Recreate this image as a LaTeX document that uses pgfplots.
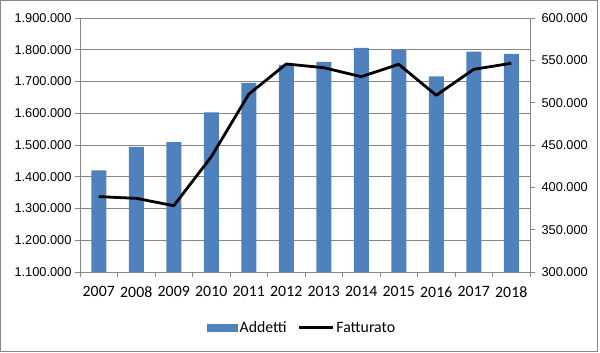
\documentclass[border=0pt]{standalone}
\usepackage{pgfplots}
\pgfplotsset{compat=1.18}
\usepackage{fontspec}
\setmainfont{Carlito}
\newfontfamily\arialf{Liberation Sans}
\definecolor{barblue}{HTML}{4F81BD}
\definecolor{gridgray}{HTML}{878787}
\begin{document}
\begin{tikzpicture}
\useasboundingbox (0,0) rectangle (600bp,353bp);
\draw[gridgray, line width=1.2bp] (0.8bp,1.5bp) rectangle (597.6bp,352.4bp);
\begin{axis}[
  at={(80bp,81bp)}, anchor=south west, scale only axis,
  width=450bp, height=254bp,
  xmin=-0.5, xmax=11.5, ymin=1100000, ymax=1900000,
  axis x line*=bottom, axis y line*=left,
  axis line style={draw=gridgray, line width=0.8bp, -},
  ytick={1100000,1200000,1300000,1400000,1500000,1600000,1700000,1800000,1900000},
  ymajorgrids, major grid style={gridgray, line width=0.8bp},
  xtick={0,...,11},
  xticklabels={2007,2008,2009,2010,2011,2012,2013,2014,2015,2016,2017,2018},
  minor xtick={-0.5,0.5,...,11.5},
  tick align=outside, major tick length=5bp, minor tick length=5bp,
  every tick/.style={gridgray, line width=0.8bp},
  every major x tick/.style={draw=none},
  scaled y ticks=false,
  yticklabel style={font=\arialf\fontsize{12.8bp}{14bp}\selectfont, text=black},
  xticklabel style={font=\fontsize{15.8bp}{17bp}\selectfont, text=black, yshift=-6bp},
  /pgf/number format/fixed,
  /pgf/number format/1000 sep={.},
  /pgf/number format/assume math mode=true,
  legend style={at={(0.493,-0.220)}, anchor=center, draw=none, fill=none,
    font=\fontsize{15.8bp}{17bp}\selectfont, inner sep=0pt,
    /tikz/every even column/.append style={column sep=9bp}},
  legend columns=2, legend cell align=left,
]
\addplot[ybar, bar width=15bp, fill=barblue, draw=none,
  legend image code/.code={\fill[barblue] (0bp,-4.3bp) rectangle (31bp,4.3bp);}]
  coordinates {(0,1420000) (1,1494000) (2,1509000) (3,1603000) (4,1696000) (5,1752000)
  (6,1762000) (7,1806000) (8,1801000) (9,1716000) (10,1794000) (11,1787000)};
\addlegendentry{Addetti}
\addlegendimage{legend image code/.code={\draw[black, line width=2.8bp] (0bp,0bp) -- (34bp,0bp);}}
\addlegendentry{Fatturato}
\end{axis}
\begin{axis}[
  at={(80bp,81bp)}, anchor=south west, scale only axis,
  width=450bp, height=254bp,
  xmin=-0.5, xmax=11.5, ymin=300000, ymax=600000,
  axis y line*=right, axis x line=none,
  axis line style={draw=gridgray, line width=0.8bp, -},
  ytick={300000,350000,400000,450000,500000,550000,600000},
  tick align=outside, major tick length=5bp,
  every tick/.style={gridgray, line width=0.8bp},
  scaled y ticks=false,
  yticklabel style={font=\arialf\fontsize{12.8bp}{14bp}\selectfont, text=black, xshift=3bp},
  /pgf/number format/fixed,
  /pgf/number format/1000 sep={.},
  /pgf/number format/assume math mode=true,
]
\addplot[black, line width=2.8bp, line join=round] coordinates {
  (0,389000) (1,387000) (2,378300) (3,436000) (4,510000) (5,545700)
  (6,541300) (7,530700) (8,545300) (9,508700) (10,539400) (11,546500)};
\end{axis}
\end{tikzpicture}
\end{document}
